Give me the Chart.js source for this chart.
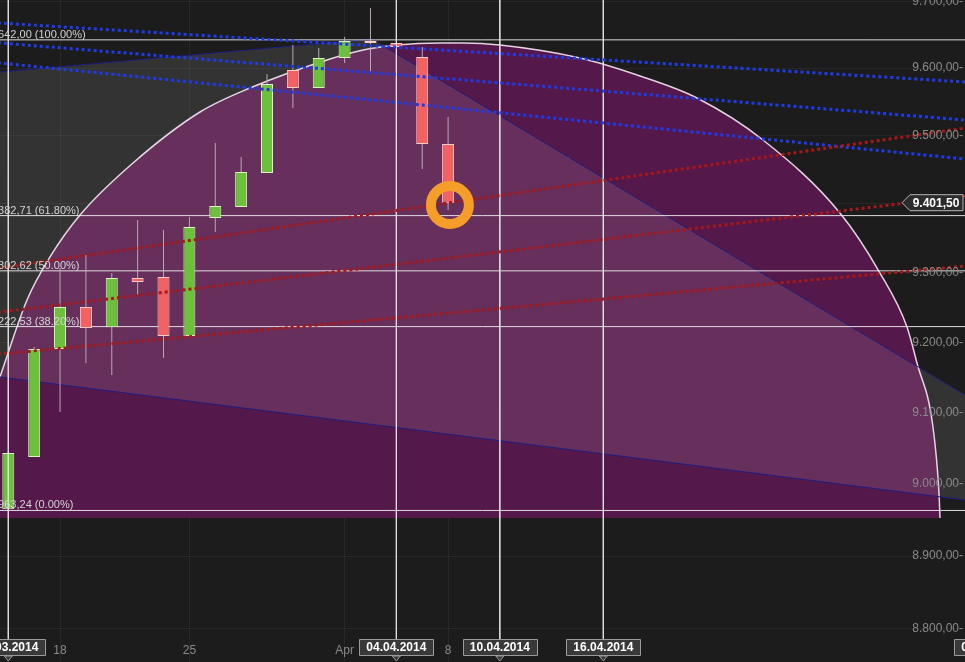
<!DOCTYPE html>
<html><head><meta charset="utf-8">
<script src="https://cdn.jsdelivr.net/npm/chart.js@4/dist/chart.umd.min.js"></script>
<style>
html,body{margin:0;padding:0;background:#1c1c1c;overflow:hidden}
#wrap{position:relative;width:965px;height:662px}
</style></head>
<body><div id="wrap"><canvas id="c"></canvas></div>
<script>
// ---------- data ----------
const candleIdx = [0,1,2,3,4,5,6,7,8,9,10,11,12,13,14,15,16,17];
const candleDates = ['14.03','17.03','18.03','19.03','20.03','21.03','24.03','25.03','26.03','27.03','28.03','31.03','01.04','02.04','03.04','04.04','07.04','08.04'];
const openVals  = [8965.0,9037.9,9190.6,9250.6,9221.5,9292.3,9293.8,9209.1,9379.2,9395.2,9444.9,9597.0,9570.3,9614.9,9640.3,9637.3,9616.4,9487.5];
const highVals  = [9045.0,9193.4,9306.8,9325.5,9299.5,9376.3,9361.8,9380.7,9489.0,9468.4,9591.1,9634.3,9629.8,9646.3,9689.8,9637.3,9631.3,9527.3];
const lowVals   = [8963.24,9037.9,9101.2,9170.6,9153.6,9267.9,9177.7,9209.1,9358.9,9395.2,9444.9,9540.6,9570.3,9607.4,9594.0,9631.3,9450.8,9390.9];
const closeVals = [9043.5,9190.6,9250.6,9220.5,9292.3,9286.6,9209.1,9366.1,9396.7,9446.4,9576.2,9570.3,9614.9,9640.3,9637.3,9631.3,9487.5,9401.5];

const yTickValues = [9700,9600,9500,9400,9300,9200,9100,9000,8900,8800];
const yTickLabels = ['9.700,00-','9.600,00-','9.500,00-','9.400,00-','9.300,00-','9.200,00-','9.100,00-','9.000,00-','8.900,00-','8.800,00-'];
const xTickIdx = [2,7,13,17];
const xTickLabels = ['18','25','Apr','8'];

const markerIdx = [0,15,19,23,38];
const markerLabels = ['14.03.2014','04.04.2014','10.04.2014','16.04.2014','07.05.2014'];

const fibValues = [9642.00,9382.71,9302.62,9222.53,8963.24];
const fibLabels = ['9642,00 (100.00%)','9382,71 (61.80%)','9302,62 (50.00%)','9222,53 (38.20%)','8963,24 (0.00%)'];

const lastPrice = 9401.50;
const lastPriceLabel = '9.401,50';

// arc (Fibonacci arc) outline points
const arcIdx = [-0.321,0.723,1.612,2.772,4.820,7.410,9.343,12.435,13.711,15.025,16.687,17.576,19.006,22.098,24.417,26.621,29.172,32.148,33.695,34.738,35.125,35.743,35.975,36.014];
const arcVal = [9150.7,9260.7,9322.7,9383.6,9459.6,9534.7,9570.3,9613.4,9626.8,9634.3,9637.3,9637.3,9634.3,9614.9,9588.1,9555.4,9493.4,9386.5,9299.5,9222.0,9170.6,9080.0,8987.5,8952.8];
const arcBase = 8952.8;

// shaded triangle / channel
const wedgeIdx = [-1.094,14.06,37.754,37.754,-1.094,-1.094];
const wedgeVal = [9591.4,9643.3,9108.2,8974.2,9154.3,9591.4];

// trend lines (start/end)
const lineIdx = [-1.094,37.754];
const blueStart = [9669.0,9639.7,9610.4];
const blueEnd   = [9577.4,9520.5,9462.5];
const redStart  = [9302.6,9240.0,9180.9];
const redEnd    = [9515.3,9414.8,9312.2];

const ringIdx = 17.07, ringVal = 9398.1;

const X_MIN = -0.3208, X_MAX = 36.981;
const Y_MIN = 8755.0, Y_MAX = 9701.8;
const MARKER_BOTTOM = 8785.1;

// ---------- build datasets ----------
const datasets = [];
datasets.push({
  type:'line', label:'arc', order:100,
  data: arcIdx.map((x,i)=>({x, y:arcVal[i]})),
  borderColor:'#e4d2e2', borderWidth:1.5, backgroundColor:'#55184a',
  fill:{value:arcBase}, cubicInterpolationMode:'monotone', pointRadius:0
});
datasets.push({
  type:'line', label:'wedge', order:90,
  data: wedgeIdx.map((x,i)=>({x, y:wedgeVal[i]})),
  borderColor:'#1d1d80', borderWidth:1, backgroundColor:'rgba(255,255,255,0.10)',
  fill:'shape', tension:0, pointRadius:0
});
fibValues.forEach((v,k)=>datasets.push({
  type:'line', label:'fib'+k, order:80,
  data:[{x:X_MIN-1,y:v},{x:X_MAX+1,y:v}],
  borderColor:'rgba(236,236,236,0.92)', borderWidth:1, pointRadius:0, fill:false
}));
datasets.push({
  type:'bar', label:'wicks', order:60, grouped:false,
  data: candleIdx.map((x,i)=>({x, y:[lowVals[i], highVals[i]]})),
  backgroundColor:'#b9aab7', maxBarThickness:1, borderWidth:0
});
datasets.push({
  type:'bar', label:'bodies', order:50, grouped:false,
  data: candleIdx.map((x,i)=>({x, y:[openVals[i], closeVals[i]]})),
  backgroundColor: candleIdx.map(i=>closeVals[i]>=openVals[i]?'#6cc03c':'#f26262'),
  borderColor: candleIdx.map(i=>closeVals[i]>=openVals[i]?'#dcf2c4':'#ffcccc'),
  borderWidth:1, borderSkipped:false, maxBarThickness:12
});
markerIdx.slice(0,4).forEach((x,k)=>datasets.push({
  type:'line', label:'mark'+k, order:45,
  data:[{x, y:Y_MAX},{x, y:MARKER_BOTTOM}],
  borderColor:'rgba(225,225,225,0.9)', borderWidth:1, pointRadius:0, fill:false
}));
blueStart.forEach((v,k)=>datasets.push({
  type:'line', label:'blue'+k, order:40,
  data:[{x:lineIdx[0],y:v},{x:lineIdx[1],y:blueEnd[k]}],
  borderColor:'#1f3be6', borderWidth:3, borderDash:[3,3], pointRadius:0, fill:false
}));
redStart.forEach((v,k)=>datasets.push({
  type:'line', label:'red'+k, order:30,
  data:[{x:lineIdx[0],y:v},{x:lineIdx[1],y:redEnd[k]}],
  borderColor:'#a81818', borderWidth:3, borderDash:[3,3], pointRadius:0, fill:false
}));
datasets.push({
  type:'line', label:'ring', order:10, showLine:false,
  data:[{x:ringIdx, y:ringVal}],
  pointRadius:19, pointBorderWidth:10, pointBorderColor:'#f59d29',
  pointBackgroundColor:'rgba(0,0,0,0)'
});

// ---------- labels plugin ----------
const FONT = '"Liberation Sans", Arial, sans-serif';
const labelPlugin = {
  id:'labels',
  afterDraw(chart){
    const ctx = chart.ctx, xs = chart.scales.x, ys = chart.scales.y;
    ctx.save();
    // fib labels
    ctx.font = '11px ' + FONT; ctx.fillStyle = '#d4d4d4';
    ctx.textAlign = 'left'; ctx.textBaseline = 'alphabetic';
    fibValues.forEach((v,k)=>{ ctx.fillText(fibLabels[k], -8, ys.getPixelForValue(v) - 2); });
    // y tick labels
    ctx.font = '12px ' + FONT; ctx.fillStyle = '#8a8a8a';
    ctx.textAlign = 'right'; ctx.textBaseline = 'middle';
    ys.ticks.forEach(t=>{
      const k = yTickValues.indexOf(t.value);
      if (k >= 0) ctx.fillText(yTickLabels[k], 963, ys.getPixelForValue(t.value));
    });
    // x tick labels
    ctx.textAlign = 'center';
    xs.ticks.forEach(t=>{
      const k = xTickIdx.indexOf(t.value);
      if (k >= 0) ctx.fillText(xTickLabels[k], xs.getPixelForValue(t.value), 651);
    });
    // date marker boxes
    ctx.font = 'bold 12px ' + FONT;
    markerIdx.forEach((x,k)=>{
      const cx = xs.getPixelForValue(x);
      const w = 74, h = 16, top = 639;
      ctx.fillStyle = '#393939'; ctx.strokeStyle = '#9a9a9a'; ctx.lineWidth = 1;
      ctx.beginPath(); ctx.rect(Math.round(cx - w/2) + 0.5, top + 0.5, w, h); ctx.fill(); ctx.stroke();
      ctx.beginPath(); ctx.moveTo(cx - 4, top + h + 1); ctx.lineTo(cx + 4, top + h + 1); ctx.lineTo(cx, top + h + 6); ctx.closePath();
      ctx.fill(); ctx.stroke();
      ctx.fillStyle = '#ffffff'; ctx.textBaseline = 'middle';
      ctx.fillText(markerLabels[k], cx, top + h/2 + 1);
    });
    // last price box
    const py = ys.getPixelForValue(lastPrice);
    ctx.beginPath();
    ctx.moveTo(902, py); ctx.lineTo(910, py - 8); ctx.lineTo(963, py - 8);
    ctx.lineTo(963, py + 8); ctx.lineTo(910, py + 8); ctx.closePath();
    ctx.fillStyle = '#2c2c2c'; ctx.fill();
    ctx.strokeStyle = '#b4b4b4'; ctx.lineWidth = 1; ctx.stroke();
    ctx.fillStyle = '#ffffff'; ctx.textAlign = 'center'; ctx.textBaseline = 'middle';
    ctx.fillText(lastPriceLabel, 936, py + 1);
    ctx.restore();
  }
};

new Chart(document.getElementById('c'), {
  type:'bar',
  data:{ datasets },
  options:{
    responsive:true, maintainAspectRatio:false, animation:false, events:[],
    layout:{padding:0, autoPadding:false},
    plugins:{legend:{display:false}, tooltip:{enabled:false}},
    scales:{
      x:{ type:'linear', min:X_MIN, max:X_MAX, bounds:'data', offset:false,
          afterBuildTicks:s=>{ s.ticks = xTickIdx.map(v=>({value:v})); },
          ticks:{display:false}, border:{display:false},
          grid:{offset:false, drawTicks:false, color:'rgba(255,255,255,0.05)'} },
      y:{ type:'logarithmic', position:'right', min:Y_MIN, max:Y_MAX, bounds:'data',
          afterBuildTicks:s=>{ s.ticks = yTickValues.map(v=>({value:v})); },
          ticks:{display:false}, border:{display:false},
          grid:{drawTicks:false, color:'rgba(255,255,255,0.05)'} }
    }
  },
  plugins:[labelPlugin]
});
</script>
</body></html>
